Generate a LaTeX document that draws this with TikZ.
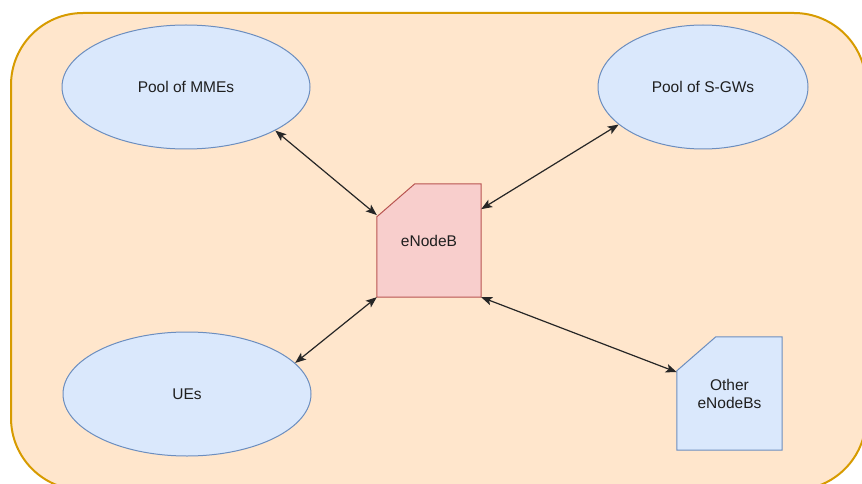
\documentclass[tikz,border=0pt]{standalone}
\usepackage{fontspec}
\setmainfont{Liberation Sans}
\usetikzlibrary{shapes.geometric,arrows.meta,calc,backgrounds}
\definecolor{zonefill}{HTML}{FFE6CC}
\definecolor{zoneline}{HTML}{D79B00}
\definecolor{bluefill}{HTML}{DAE8FC}
\definecolor{blueline}{HTML}{6C8EBF}
\definecolor{redfill}{HTML}{F8CECC}
\definecolor{redline}{HTML}{B85450}
\begin{document}
\begin{tikzpicture}[x=1pt,y=-1pt,
  lbl/.style={font=\fontsize{15.5}{18}\selectfont, text=black!88, align=center},
  pool/.style={lbl, ellipse, draw=blueline, fill=bluefill, line width=1pt,
    inner sep=0pt, minimum width=#1, minimum height=124pt},
  cell/.style={lbl, rectangle, inner sep=0pt, minimum width=104pt, minimum height=113pt},
  cellshape/.style={line width=1pt, line join=miter},
  tip/.style={Stealth[length=11pt,width=8.5pt,inset=2.5pt]},
  link/.style={draw=black!85, line width=1.2pt, {Stealth[length=11pt,width=8.5pt,inset=2.5pt]}-{Stealth[length=11pt,width=8.5pt,inset=2.5pt]}}
]
\useasboundingbox (0,0) rectangle (862,484);
\clip (0,0) rectangle (862,484);

% network zone
\begin{scope}[on background layer]
  \draw[fill=zonefill, draw=zoneline, line width=2pt, rounded corners=72pt]
    (11,13) rectangle (866,490);
\end{scope}

% elements
\node[pool=248pt] (mme) at (186,87) {Pool of MMEs};
\node[pool=210pt] (sgw) at (703,87) {Pool of S-GWs};
\node[pool=248pt] (ue)  at (187,394) {UEs};
\node[cell] (en)  at (429,240.5) {eNodeB};
\node[cell, minimum width=105pt] (oth) at (729.5,393.5) {Other\\eNodeBs};

% chamfered outlines of the base stations
\begin{scope}[on background layer]
  \draw[cellshape, fill=redfill, draw=redline]
    (en.south west) -- ($(en.north west)+(0,33)$) -- ($(en.north west)+(38,0)$)
    -- (en.north east) -- (en.south east) -- cycle;
  \draw[cellshape, fill=bluefill, draw=blueline]
    (oth.south west) -- ($(oth.north west)+(0,34)$) -- ($(oth.north west)+(39,0)$)
    -- (oth.north east) -- (oth.south east) -- cycle;
\end{scope}

% interfaces
\draw[link] (mme.-26) -- (en.154);
\draw[link] (en.31.5) -- (sgw.204);
\draw[link] (en.south west) -- (ue.16);
\draw[link] (en.south east) -- (oth.158);
\end{tikzpicture}
\end{document}
